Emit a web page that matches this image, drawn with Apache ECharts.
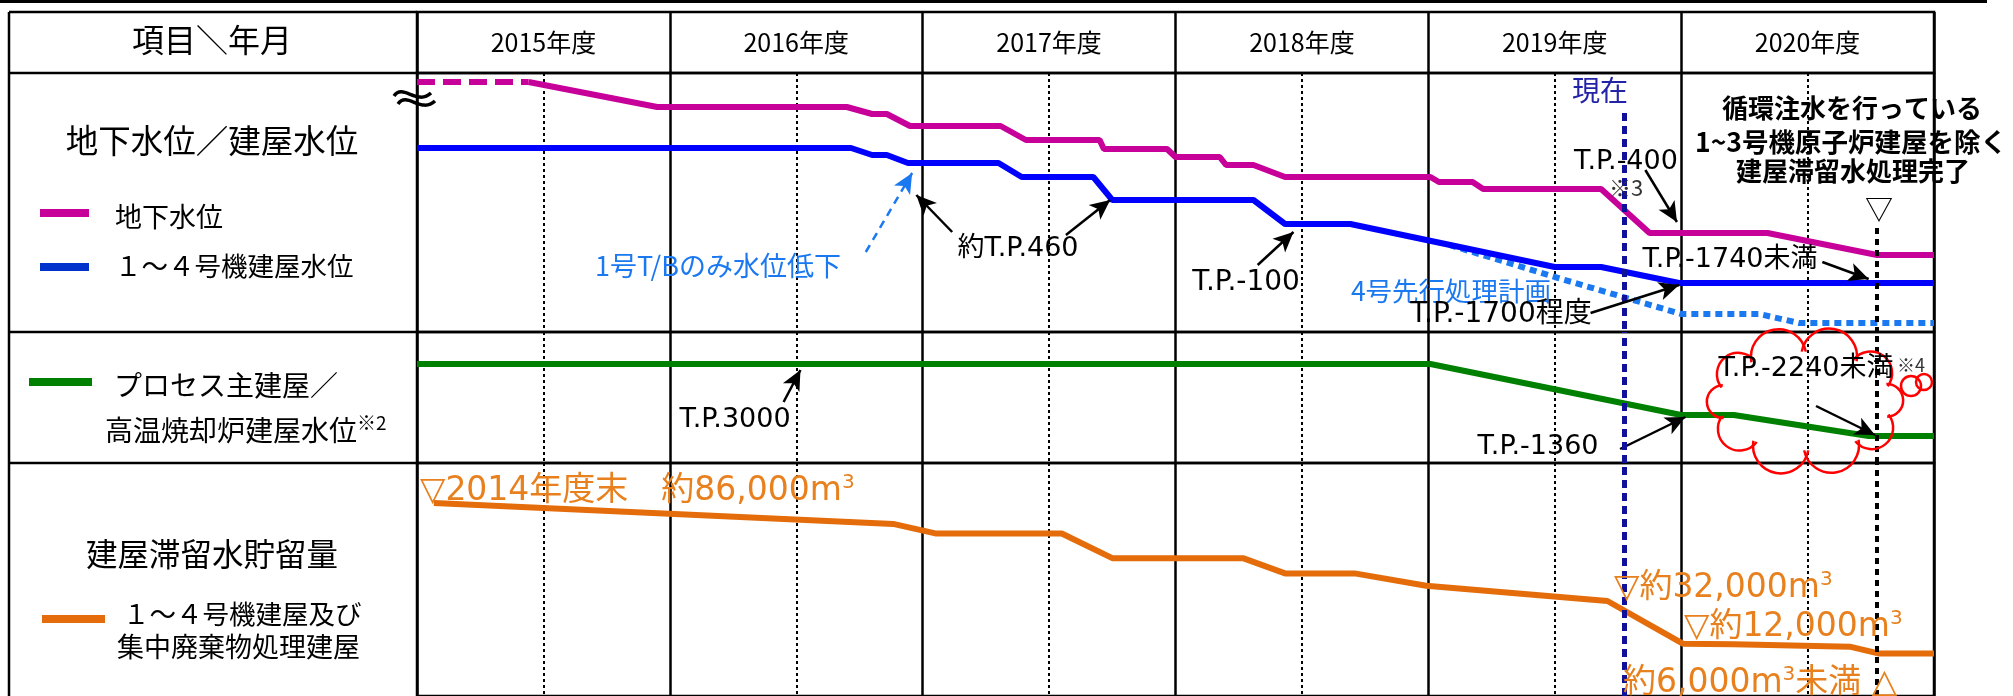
<!DOCTYPE html>
<html>
<head>
<meta charset="utf-8">
<script src="https://cdn.jsdelivr.net/npm/echarts@6/dist/echarts.min.js"></script>
<style>
html,body{margin:0;padding:0;background:#fff;}
#main{width:2013px;height:696px;}
</style>
</head>
<body>
<div id="main"></div>
<script>
// 年度ヘッダ
var years = ['2015年度', '2016年度', '2017年度', '2018年度', '2019年度', '2020年度'];

// 横軸は2015年4月からの経過月数
// 地下水位（上段、相対レベル）
var gwDashMonth = [0, 5.3];
var gwDashLevel = [250, 250];
var gwMonth = [5.3, 11.4, 20.4, 21.6, 22.3, 23.4, 27.7, 28.9, 32.4, 32.6, 35.6, 36.0, 38.1, 38.4, 39.7, 41.2, 48.1, 48.5, 50.1, 50.6, 56.2, 58.5, 64.1, 69.3, 72];
var gwLevel = [250, 225, 225, 218, 218, 206, 206, 192, 192, 183, 183, 175, 175, 167, 167, 155, 155, 150, 150, 143, 143, 99, 99, 77, 77];

// 1～4号機建屋水位
var bldMonth = [0, 20.6, 21.6, 22.3, 23.3, 27.6, 28.7, 32.1, 33.0, 39.7, 41.2, 44.3, 54.0, 56.2, 59.9, 72];
var bldLevel = [184, 184, 177, 177, 169, 169, 155, 155, 132, 132, 108, 108, 65, 65, 49, 49];

// 4号先行処理計画
var u4Month = [49.0, 54.0, 60.0, 63.7, 65.6, 72];
var u4Level = [87, 55, 18, 18, 9, 9];

// プロセス主建屋／高温焼却炉建屋水位（中段）
var procMonth = [0, 48.1, 60.0, 62.5, 68.9, 72];
var procLevel = [99, 99, 48, 48, 27, 27];

// 建屋滞留水貯留量 (m3)
var stoMonth = [0.8, 22.6, 24.6, 30.6, 33.0, 39.2, 41.2, 44.5, 47.9, 56.5, 60.1, 62.5, 68.0, 69.4, 72];
var stoVolume = [86000, 75000, 70000, 70000, 57000, 57000, 49000, 49000, 42500, 34500, 12000, 11800, 10500, 6900, 6900];

var nowMonth = 57.3;   // 現在
var endMonth = 69.3;   // 処理完了

// 注記の矢印（始点, 終点）
var arrowsTop = [[[25.4, 100], [23.7, 137]], [[30.8, 97], [32.9, 132]], [[39.9, 67], [41.6, 100]],
                 [[58.3, 162], [59.8, 110]], [[55.7, 19], [59.9, 47]], [[66.7, 70], [68.9, 53]]];
var arrowTB = [[21.3, 80], [23.5, 159]];
var arrowsMid = [[[17.4, 61], [18.2, 93]], [[57.1, 14], [60.2, 46]], [[66.4, 57], [69.2, 28]]];

function pairs(xs, ys) {
    return xs.map(function (x, i) { return [x, ys[i]]; });
}

var CJK = '"Noto Sans CJK JP", sans-serif';
var LAT = '"DejaVu Sans", "Noto Sans CJK JP", sans-serif';
var MAGENTA = '#c8009a', BLUE = '#0000ff', LBLUE = '#1a78f0', GREEN = '#008000', ORANGE = '#e46c0a', OTXT = '#e8801e';

function txt(x, y, s, size, opt) {
    return {
        type: 'text', x: x, y: y, z: 100,
        style: Object.assign({ text: s, fontSize: size, fontFamily: CJK, fill: '#000', align: 'center', verticalAlign: 'middle' }, opt || {})
    };
}
// 体積の注記（m³ の 3 を上付き）
function vol(x, y, s) {
    return {
        type: 'text', x: x, y: y, z: 100,
        style: {
            text: s, align: 'left', verticalAlign: 'middle',
            rich: {
                a: { fontSize: 33, fontFamily: LAT, fill: OTXT },
                s: { fontSize: 20, fontFamily: LAT, fill: OTXT, padding: [0, 0, 16, 0] }
            }
        }
    };
}
function seg(x1, y1, x2, y2, color, w) {
    return { type: 'line', z: 90, shape: { x1: x1, y1: y1, x2: x2, y2: y2 }, style: { stroke: color, lineWidth: w } };
}

// 雲形（半円の連なり）
function cloud(cx, cy, rx, ry, n) {
    var out = [], base = [];
    for (var i = 0; i <= n; i++) {
        var a = Math.PI * 2 * i / n + 0.3;
        base.push([cx + rx * Math.cos(a), cy + ry * Math.sin(a)]);
    }
    for (var j = 0; j < n; j++) {
        var p = base[j], q = base[j + 1];
        var mx = (p[0] + q[0]) / 2, my = (p[1] + q[1]) / 2;
        var r = Math.sqrt((q[0] - p[0]) * (q[0] - p[0]) + (q[1] - p[1]) * (q[1] - p[1])) / 2;
        var ap = Math.atan2(p[1] - my, p[0] - mx);
        var ao = Math.atan2(my - cy, mx - cx);
        var d = ((ao - ap) % (2 * Math.PI) + 2 * Math.PI) % (2 * Math.PI);
        var cw = d < Math.PI;
        out.push({
            type: 'arc', z: 95,
            shape: { cx: mx, cy: my, r: r * 1.08, startAngle: ap, endAngle: cw ? ap + Math.PI : ap - Math.PI, clockwise: cw },
            style: { fill: 'none', stroke: '#ff0000', lineWidth: 2.5 }
        });
    }
    return out;
}

function wave(dx, dy) {
    return {
        type: 'bezierCurve', z: 96,
        shape: { x1: 394 + dx, y1: 96 + dy, cpx1: 403 + dx, cpy1: 83 + dy, cpx2: 417 + dx, cpy2: 106 + dy, x2: 431 + dx, y2: 93 + dy },
        style: { stroke: '#000', lineWidth: 3.5, fill: 'none' }
    };
}

var chart = echarts.init(document.getElementById('main'));

var gridLine = { color: '#000', width: 2.5 };
function dataX(idx) {
    return {
        type: 'value', gridIndex: idx, min: 0, max: 72, interval: 12,
        axisLine: { show: false }, axisTick: { show: false }, axisLabel: { show: false },
        minorTick: { show: false, splitNumber: 2 },
        splitLine: { show: true, lineStyle: gridLine },
        minorSplitLine: { show: true, lineStyle: { color: '#000', width: 2, type: [3, 3] } }
    };
}

var nowStyle = { color: '#10109a', width: 5, type: [8, 5] };
var endStyle = { color: '#000', width: 4, type: [6, 5] };
var arrowStyle = { color: '#000', width: 2.5, type: 'solid' };

var texts = [
    txt(212, 40, '項目＼年月', 32),
    txt(212, 141, '地下水位／建屋水位', 32.5),
    txt(115, 217, '地下水位', 27, { align: 'left' }),
    txt(115, 266, '１～４号機建屋水位', 26.5, { align: 'left' }),
    txt(114, 385, 'プロセス主建屋／', 28, { align: 'left' }),
    {
        type: 'text', x: 105, y: 430, z: 100,
        style: {
            text: '{a|高温焼却炉建屋水位}{s|※2}', align: 'left', verticalAlign: 'middle',
            rich: { a: { fontSize: 28, fontFamily: CJK, fill: '#000' }, s: { fontSize: 19, fontFamily: CJK, fill: '#000', padding: [0, 0, 14, 0] } }
        }
    },
    txt(212, 554, '建屋滞留水貯留量', 31.5),
    txt(123, 614, '１～４号機建屋及び', 26.5, { align: 'left' }),
    txt(117, 647, '集中廃棄物処理建屋', 27, { align: 'left' }),

    txt(718, 266, '1号T/Bのみ水位低下', 27, { fill: LBLUE }),
    txt(1018, 249, '約T.P.460', 27, { fontFamily: LAT }),
    txt(1246, 283, 'T.P.-100', 28, { fontFamily: LAT }),
    txt(1600, 90, '現在', 28, { fill: '#2323a8' }),
    txt(1626, 162, 'T.P.-400', 27, { fontFamily: LAT }),
    txt(1626, 188, '※3', 22, { fill: '#333' }),
    txt(1451, 291, '4号先行処理計画', 26.5, { fill: LBLUE }),
    txt(1501, 315, 'T.P.-1700程度', 28, { fontFamily: LAT }),
    txt(1730, 260, 'T.P.-1740未満', 27, { fontFamily: LAT }),
    txt(1852, 108, '循環注水を行っている', 26, { fontWeight: 'bold' }),
    txt(1851, 142, '1~3号機原子炉建屋を除く', 26.5, { fontWeight: 'bold' }),
    txt(1853, 171, '建屋滞留水処理完了', 26, { fontWeight: 'bold' }),
    txt(1879, 209, '▽', 28),
    txt(735, 420, 'T.P.3000', 27, { fontFamily: LAT }),
    txt(1538, 447, 'T.P.-1360', 27, { fontFamily: LAT }),
    txt(1806, 369, 'T.P.-2240未満', 27, { fontFamily: LAT }),
    txt(1911, 365, '※4', 18, { fill: '#333' }),

    vol(420, 491, '{a|▽2014年度末　約86,000m}{s|3}'),
    vol(1614, 588, '{a|▽約32,000m}{s|3}'),
    vol(1684, 627, '{a|▽約12,000m}{s|3}'),
    vol(1623, 683, '{a|約6,000m}{s|3}{a|未満 △}')
];

var frame = [
    seg(0, 1.5, 1987, 1.5, '#000', 3),
    seg(9, 12, 9, 696, '#000', 2.5),
    seg(9, 12, 417, 12, '#000', 2.5),
    seg(9, 73, 417, 73, '#000', 2.5),
    seg(9, 332, 417, 332, '#000', 2.5),
    seg(9, 463, 417, 463, '#000', 2.5),
    seg(40, 213, 89, 213, MAGENTA, 8),
    seg(40, 267, 89, 267, '#0033cc', 8),
    seg(29, 382, 92, 382, GREEN, 8),
    seg(42, 619, 105, 619, ORANGE, 8),
    wave(0, 0), wave(4, 8),
    { type: 'circle', z: 95, shape: { cx: 1911, cy: 386, r: 10 }, style: { fill: 'none', stroke: '#ff0000', lineWidth: 2.5 } },
    { type: 'circle', z: 95, shape: { cx: 1924, cy: 382, r: 8 }, style: { fill: 'none', stroke: '#ff0000', lineWidth: 2.5 } }
].concat(cloud(1805, 401, 86, 49, 10));

var option = {
    animation: false,
    backgroundColor: '#fff',
    grid: [
        { left: 417, right: 79, top: 12, height: 61, show: true, borderColor: '#000', borderWidth: 2.5 },
        { left: 417, right: 79, top: 73, height: 259, show: true, borderColor: '#000', borderWidth: 2.5 },
        { left: 417, right: 79, top: 332, height: 131, show: true, borderColor: '#000', borderWidth: 2.5 },
        { left: 417, right: 79, top: 463, height: 240, show: true, borderColor: '#000', borderWidth: 2.5 }
    ],
    xAxis: [
        {
            type: 'category', gridIndex: 0, data: years, boundaryGap: true,
            axisLine: { show: false }, axisTick: { show: false },
            splitLine: { show: true, interval: 0, lineStyle: gridLine },
            axisLabel: { inside: true, margin: 31, fontSize: 25, color: '#000', fontFamily: CJK, verticalAlign: 'middle' }
        },
        dataX(1), dataX(2), dataX(3)
    ],
    yAxis: [
        { type: 'value', gridIndex: 0, show: false },
        { type: 'value', gridIndex: 1, show: false, min: 0, max: 259 },
        { type: 'value', gridIndex: 2, show: false, min: 0, max: 131 },
        { type: 'value', gridIndex: 3, show: false, min: -15400, max: 107000 }
    ],
    graphic: { elements: frame.concat(texts) },
    series: [
        {
            name: '地下水位(推定)', type: 'line', xAxisIndex: 1, yAxisIndex: 1, symbol: 'none',
            data: pairs(gwDashMonth, gwDashLevel),
            lineStyle: { color: MAGENTA, width: 6, type: [18, 8] },
            markLine: {
                silent: true, symbol: ['none', 'none'], label: { show: false },
                data: [
                    [{ coord: [nowMonth, 219], lineStyle: nowStyle }, { coord: [nowMonth, 0] }],
                    [{ coord: [endMonth, 104], lineStyle: endStyle }, { coord: [endMonth, 0] }]
                ]
            }
        },
        {
            name: '地下水位', type: 'line', xAxisIndex: 1, yAxisIndex: 1, symbol: 'none',
            data: pairs(gwMonth, gwLevel), lineStyle: { color: MAGENTA, width: 6 }
        },
        {
            name: '4号先行処理計画', type: 'line', xAxisIndex: 1, yAxisIndex: 1, symbol: 'none',
            data: pairs(u4Month, u4Level), lineStyle: { color: LBLUE, width: 6, type: [7, 5] }
        },
        {
            name: '1～4号機建屋水位', type: 'line', xAxisIndex: 1, yAxisIndex: 1, symbol: 'none',
            data: pairs(bldMonth, bldLevel), lineStyle: { color: BLUE, width: 6 },
            markLine: {
                silent: true, symbol: ['none', 'arrow'], symbolSize: [14, 20], label: { show: false },
                data: arrowsTop.map(function (a) {
                    return [{ coord: a[0], lineStyle: arrowStyle, itemStyle: { color: '#000' } }, { coord: a[1] }];
                }).concat([[
                    { coord: arrowTB[0], lineStyle: { color: LBLUE, width: 2.5, type: [8, 6] }, itemStyle: { color: LBLUE } },
                    { coord: arrowTB[1] }
                ]])
            }
        },
        {
            name: 'プロセス主建屋／高温焼却炉建屋水位', type: 'line', xAxisIndex: 2, yAxisIndex: 2, symbol: 'none',
            data: pairs(procMonth, procLevel), lineStyle: { color: GREEN, width: 6 },
            markLine: {
                silent: true, symbol: ['none', 'arrow'], symbolSize: [14, 20], label: { show: false },
                data: arrowsMid.map(function (a) {
                    return [{ coord: a[0], lineStyle: arrowStyle, itemStyle: { color: '#000' } }, { coord: a[1] }];
                })
            }
        },
        {
            name: 'mid-marks', type: 'line', xAxisIndex: 2, yAxisIndex: 2, symbol: 'none',
            data: pairs(procMonth, procLevel), lineStyle: { opacity: 0 },
            markLine: {
                silent: true, symbol: ['none', 'none'], label: { show: false },
                data: [{ xAxis: nowMonth, lineStyle: nowStyle }, { xAxis: endMonth, lineStyle: endStyle }]
            }
        },
        {
            name: '建屋滞留水貯留量', type: 'line', xAxisIndex: 3, yAxisIndex: 3, symbol: 'none',
            data: pairs(stoMonth, stoVolume), lineStyle: { color: ORANGE, width: 6 },
            markLine: {
                silent: true, symbol: ['none', 'none'], label: { show: false },
                data: [{ xAxis: nowMonth, lineStyle: nowStyle }, { xAxis: endMonth, lineStyle: endStyle }]
            }
        }
    ]
};
chart.setOption(option);
</script>
</body>
</html>
